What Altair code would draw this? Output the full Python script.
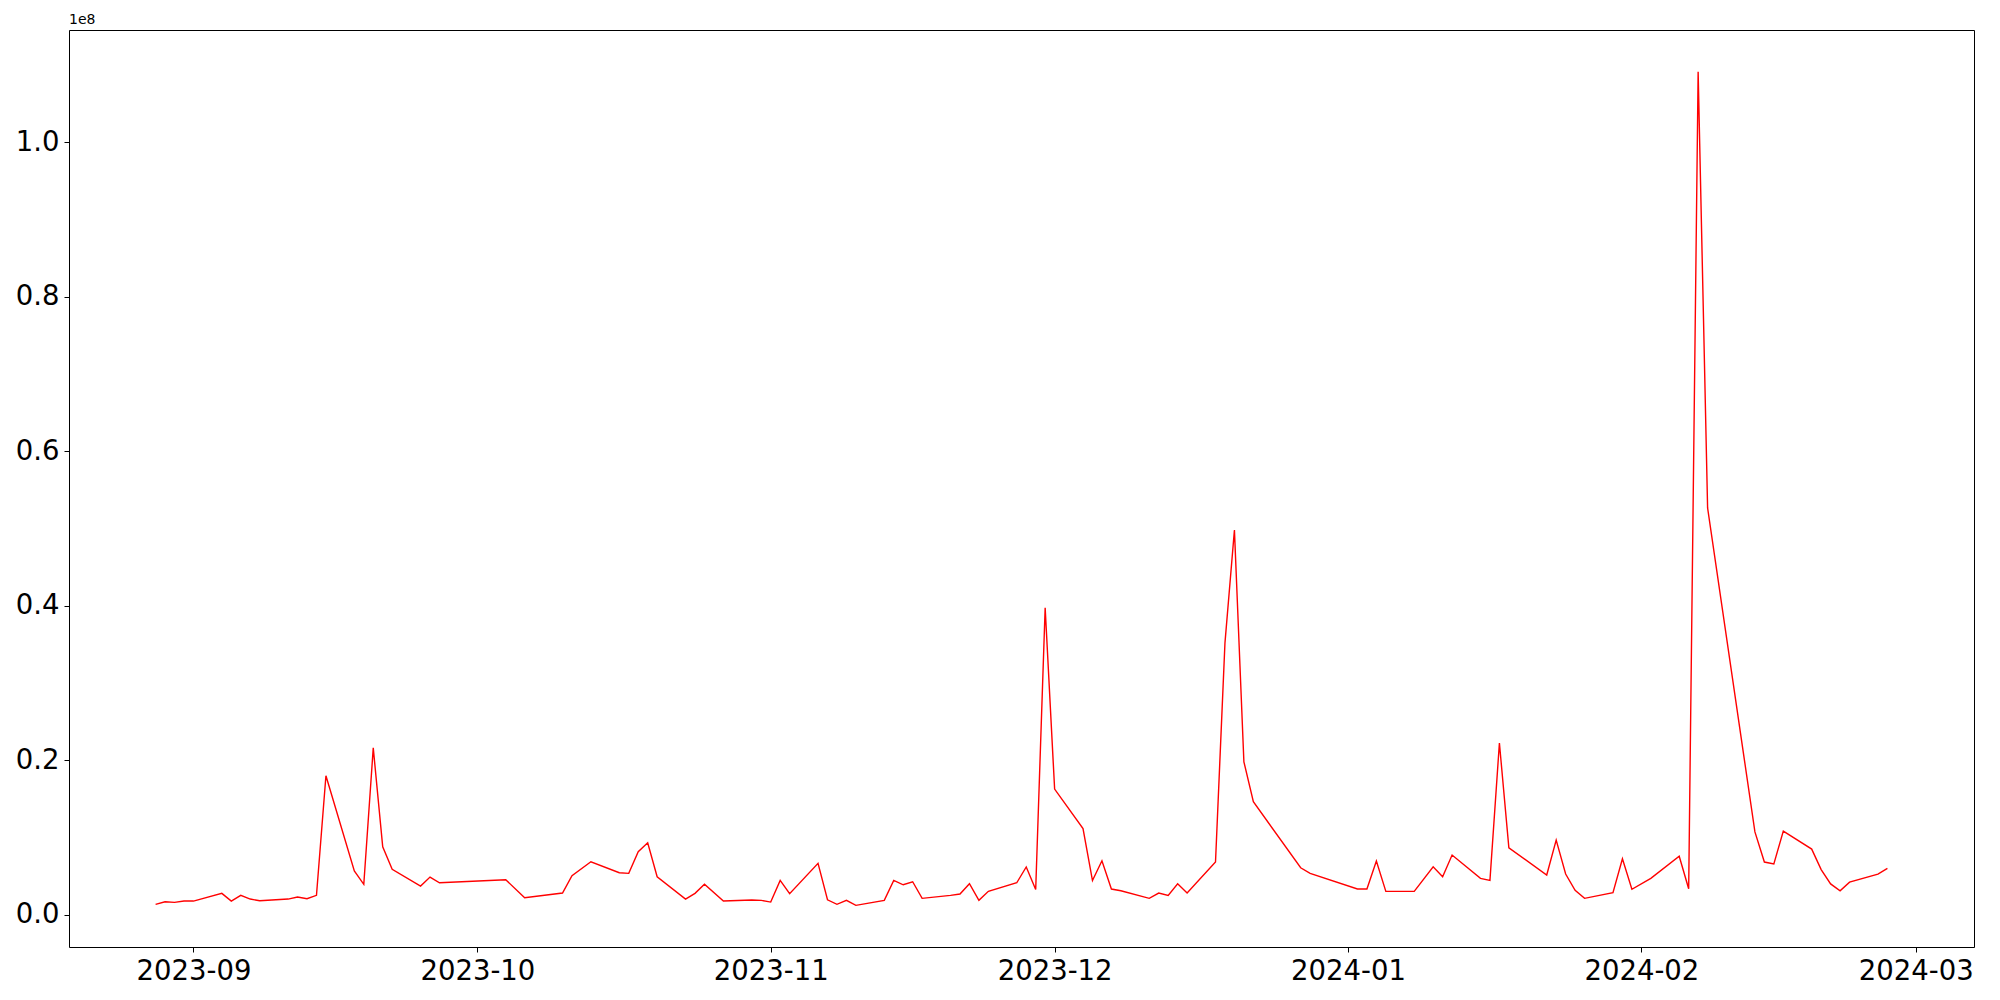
import altair as alt
import pandas as pd

dates = [
    "2023-08-28", "2023-08-29", "2023-08-30", "2023-08-31", "2023-09-01",
    "2023-09-04", "2023-09-05", "2023-09-06", "2023-09-07", "2023-09-08",
    "2023-09-11", "2023-09-12", "2023-09-13", "2023-09-14", "2023-09-15",
    "2023-09-18", "2023-09-19", "2023-09-20", "2023-09-21", "2023-09-22",
    "2023-09-25", "2023-09-26", "2023-09-27", "2023-10-04", "2023-10-06",
    "2023-10-10", "2023-10-11", "2023-10-13", "2023-10-16", "2023-10-17",
    "2023-10-18", "2023-10-19", "2023-10-20", "2023-10-23", "2023-10-24",
    "2023-10-25", "2023-10-27", "2023-10-30", "2023-10-31", "2023-11-01",
    "2023-11-02", "2023-11-03", "2023-11-06", "2023-11-07", "2023-11-08",
    "2023-11-09", "2023-11-10", "2023-11-13", "2023-11-14", "2023-11-15",
    "2023-11-16", "2023-11-17", "2023-11-20", "2023-11-21", "2023-11-22",
    "2023-11-23", "2023-11-24", "2023-11-27", "2023-11-28", "2023-11-29",
    "2023-11-30", "2023-12-01", "2023-12-04", "2023-12-05", "2023-12-06",
    "2023-12-07", "2023-12-08", "2023-12-11", "2023-12-12", "2023-12-13",
    "2023-12-14", "2023-12-15", "2023-12-18", "2023-12-19", "2023-12-20",
    "2023-12-21", "2023-12-22", "2023-12-27", "2023-12-28", "2024-01-02",
    "2024-01-03", "2024-01-04", "2024-01-05", "2024-01-08", "2024-01-10",
    "2024-01-11", "2024-01-12", "2024-01-15", "2024-01-16", "2024-01-17",
    "2024-01-18", "2024-01-22", "2024-01-23", "2024-01-24", "2024-01-25",
    "2024-01-26", "2024-01-29", "2024-01-30", "2024-01-31", "2024-02-02",
    "2024-02-05", "2024-02-06", "2024-02-07", "2024-02-08", "2024-02-13",
    "2024-02-14", "2024-02-15", "2024-02-16", "2024-02-19", "2024-02-20",
    "2024-02-21", "2024-02-22", "2024-02-23", "2024-02-26", "2024-02-27",
]

# values in millions
values_m = [
    1.35, 1.68, 1.60, 1.77, 1.77,
    2.77, 1.77, 2.51, 2.03, 1.81,
    2.03, 2.29, 2.07, 2.51, 18.0,
    5.66, 3.94, 21.6, 8.8, 5.88,
    3.72, 4.88, 4.14, 4.53, 2.20,
    2.81, 5.05, 6.86, 5.44, 5.36,
    8.16, 9.32, 4.92, 2.03, 2.77,
    3.94, 1.77, 1.90, 1.86, 1.64,
    4.45, 2.72, 6.65, 1.94, 1.35,
    1.86, 1.22, 1.86, 4.45, 3.88,
    4.27, 2.12, 2.51, 2.68, 4.01,
    1.86, 3.03, 4.14, 6.19, 3.27,
    39.74, 16.27, 11.15, 4.43, 6.99,
    3.33, 3.11, 2.12, 2.81, 2.51,
    4.01, 2.81, 6.84, 35.2, 49.8,
    19.8, 14.63, 6.08, 5.36, 3.33,
    3.33, 6.95, 3.03, 3.03, 6.21,
    4.92, 7.73, 4.71, 4.45, 22.23,
    8.67, 5.14, 9.67, 5.27, 3.16,
    2.12, 2.85, 7.25, 3.29, 4.71,
    7.58, 3.36, 109.14, 52.66, 10.72,
    6.82, 6.59, 10.82, 8.5, 5.85,
    3.99, 3.09, 4.22, 5.26, 6.0,
]

x_ticks = ["2023-09-01", "2023-10-01", "2023-11-01", "2023-12-01",
           "2024-01-01", "2024-02-01", "2024-03-01"]
y_ticks = [0.0, 0.2e8, 0.4e8, 0.6e8, 0.8e8, 1.0e8]

df = pd.DataFrame({"date": dates, "value": [v * 1e6 for v in values_m]})

# matplotlib-like 5% margins
ts = pd.to_datetime(dates, utc=True)
t0 = ts.min().value // 10**6
t1 = ts.max().value // 10**6
dt = (t1 - t0) * 0.05
x_domain = [t0 - dt, t1 + dt]
vmin, vmax = min(df["value"]), max(df["value"])
dv = (vmax - vmin) * 0.05
y_domain = [vmin - dv, vmax + dv]
x_tick_ms = [int(pd.Timestamp(d, tz="UTC").value // 10**6) for d in x_ticks]

FONT = "DejaVu Sans"
x_scale = alt.Scale(type="utc", domain=x_domain, nice=False)
y_scale = alt.Scale(domain=y_domain, nice=False, zero=False)

common_axis = dict(
    title=None,
    grid=False,
    tickSize=5,
    tickColor="black",
    domainColor="black",
    domainWidth=1,
    labelColor="black",
    labelFont=FONT,
    labelFontSize=27.5,
    labelPadding=5,
    labelFlush=False,
    labelOverlap=False,
)

main = alt.Chart(df).mark_line(color="#ff0000", strokeWidth=1.4).encode(
    x=alt.X(
        "date:T",
        scale=x_scale,
        axis=alt.Axis(
            values=x_tick_ms,
            labelExpr="utcFormat(datum.value, '%Y-%m')",
            **common_axis,
        ),
    ),
    y=alt.Y(
        "value:Q",
        scale=y_scale,
        axis=alt.Axis(
            values=y_ticks,
            labelExpr="format(datum.value / 1e8, '.1f')",
            **common_axis,
        ),
    ),
)

# top/right spines (frame) drawn as axes with no ticks or labels
frame = alt.Chart(df).mark_line(strokeOpacity=0).encode(
    x=alt.X(
        "date:T",
        scale=x_scale,
        axis=alt.Axis(orient="top", labels=False, ticks=False, title=None,
                      grid=False, domainColor="black", domainWidth=1),
    ),
    y=alt.Y(
        "value:Q",
        scale=y_scale,
        axis=alt.Axis(orient="right", labels=False, ticks=False, title=None,
                      grid=False, domainColor="black", domainWidth=1),
    ),
)

chart = alt.layer(main, frame).resolve_axis(
    x="independent", y="independent"
).properties(
    width=1905,
    height=917,
    title=alt.TitleParams(
        text="1e8",
        anchor="start",
        frame="group",
        font=FONT,
        fontSize=14,
        fontWeight="normal",
        color="black",
        offset=3,
    ),
    autosize=alt.AutoSizeParams(type="none"),
    padding={"left": 61, "top": 22, "right": 10, "bottom": 40},
).configure_view(
    stroke="transparent"
).configure(background="white")

chart.save("out.html", embed_options={"renderer": "svg", "actions": False})
